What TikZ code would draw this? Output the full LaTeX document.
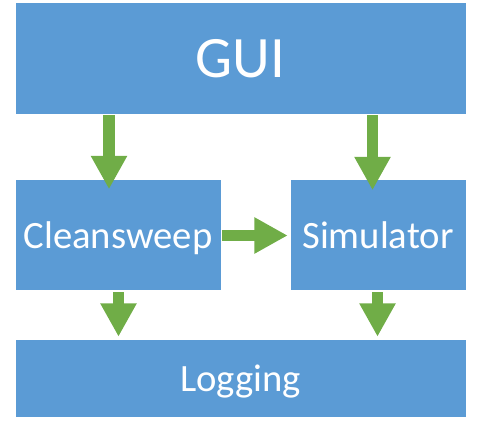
\documentclass[tikz,border=0pt]{standalone}
\usepackage{fontspec}
\setmainfont{Carlito}
\usetikzlibrary{arrows.meta,calc}
\definecolor{boxblue}{RGB}{91,155,213}
\definecolor{arrowgreen}{RGB}{112,173,71}
\tikzset{every picture/.style={line width=0.75pt}}

\begin{document}
\begin{tikzpicture}[x=0.75pt,y=0.75pt,yscale=-1,xscale=1,
  block/.style={fill=boxblue, draw=white, line width=0.4pt, text=white, inner sep=0pt, text depth=0pt, anchor=center},
  flow/.style={draw=arrowgreen, line width=8.6pt, -{Triangle[width=25.5pt,length=25pt]}}]
\useasboundingbox (0,0) rectangle (477,421);

%Shape: GUI box
\draw (240.5,58) node [block, minimum width=338.25pt, minimum height=84pt, font=\fontsize{44}{48}\selectfont] (gui) {GUI};
%Shape: Cleansweep box
\draw (118,235) node [block, minimum width=154.5pt, minimum height=83.25pt, font=\fontsize{29}{34}\selectfont] (clean) {Cleansweep};
%Shape: Simulator box
\draw (378,235) node [block, minimum width=132pt, minimum height=83.25pt, font=\fontsize{29}{34}\selectfont] (sim) {Simulator};
%Shape: Logging box
\draw (240.5,378) node [block, minimum width=338.25pt, minimum height=58.5pt, font=\fontsize{29}{34}\selectfont] (log) {Logging};

%Block Arrows
\draw [flow] ($(gui.south)+(-131.5,1)$) -- ($(clean.north)+(-9,10)$);
\draw [flow] ($(gui.south)+(132,1)$) -- ($(sim.north)+(-5.5,11)$);
\draw [flow] ($(clean.east)+(1,0.5)$) -- ($(sim.west)+(-2,0.5)$);
\draw [flow] ($(clean.south)+(0.5,1.5)$) -- ($(log.north)+(-122,-2)$);
\draw [flow] ($(sim.south)+(-0.5,1.5)$) -- ($(log.north)+(137,-2)$);

\end{tikzpicture}
\end{document}
